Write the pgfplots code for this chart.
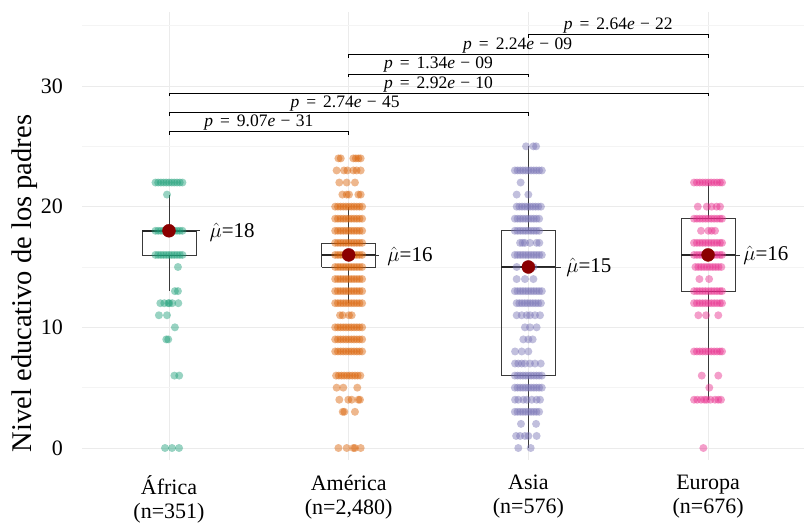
\documentclass[border=0pt]{standalone}
\usepackage{fontspec}
\setmainfont{Liberation Serif}
\usepackage{pgfplots}
\pgfplotsset{compat=1.18}
\definecolor{cA}{HTML}{1B9E77}
\definecolor{cB}{HTML}{D95F02}
\definecolor{cC}{HTML}{7570B3}
\definecolor{cD}{HTML}{E7298A}
\definecolor{meanred}{HTML}{8B0000}
\definecolor{gridmaj}{HTML}{EBEBEB}
\definecolor{gridmin}{HTML}{F4F4F4}
\definecolor{boxc}{HTML}{3A3A3A}
\newcommand{\pv}[2]{{\itshape p}\hspace{0.4em}=\hspace{0.4em}#1{\itshape e}\hspace{0.3em}−\hspace{0.3em}#2}
\pgfplotsset{
  pts/.style={only marks, mark=*, mark size=4pt, mark options={draw opacity=0, fill=#1, fill opacity=0.45}},
  boxl/.style={boxc, line width=0.7pt},
  medl/.style={black!85, line width=1.8pt},
  segl/.style={black!80, line width=0.6pt},
  brk/.style={black, line width=0.7pt},
}
\tikzset{
  plab/.style={anchor=south, inner sep=1pt, font=\fontsize{17.5}{17.5}\selectfont},
  mlab/.style={anchor=west, inner sep=0pt, font=\fontsize{21}{21}\selectfont},
}
\begin{document}
\begin{tikzpicture}
\begin{axis}[
  at={(0,0)}, anchor=south west,
  scale only axis, width=722pt, height=448pt,
  xmin=0.516, xmax=4.534, ymin=-0.994, ymax=36.13,
  axis line style={draw=none},
  major tick length=0pt, minor tick length=0pt,
  tick style={draw=none},
  xtick={1,2,3,4},
  xticklabels={{África\\(n=351)},{América\\(n=2,480)},{Asia\\(n=576)},{Europa\\(n=676)}},
  xticklabel style={align=center, font=\fontsize{22}{24}\selectfont, inner sep=0pt, yshift=-15pt},
  ytick={0,10,20,30},
  minor ytick={5,15,25,35},
  yticklabel style={font=\fontsize{22}{22}\selectfont, inner sep=0pt, xshift=-19pt},
  /pgf/number format/assume math mode=true,
  grid=both,
  major grid style={color=gridmaj, line width=0.8pt},
  minor grid style={color=gridmin, line width=0.8pt},
  ylabel={Nivel educativo de los padres},
  ylabel style={at={(axis description cs:-0.0789,0.394)}, anchor=center, font=\fontsize{28.5}{29}\selectfont},
  clip=false,
]
% ---- jittered points ----
\addplot[pts=cA] coordinates {
(0.925,22)(0.94,22)(0.955,22)(0.97,22)(0.985,22)(1,22)(1.015,22)(1.03,22)(1.045,22)(1.06,22)(1.075,22)
(0.989,21)
(0.925,18)(0.94,18)(0.955,18)(0.97,18)(0.985,18)(1,18)(1.015,18)(1.03,18)(1.045,18)(1.06,18)(1.075,18)
(0.925,16)(0.94,16)(0.955,16)(0.97,16)(0.985,16)(1,16)(1.015,16)(1.03,16)(1.045,16)(1.06,16)(1.075,16)
(1.05,15)
(1.033,13)(1.05,13)
(0.952,12)(0.974,12)(0.996,12)(1.002,12)(1.018,12)(1.052,12)
(0.944,11)(0.989,11)
(1.033,10)
(0.985,9)(0.996,9)
(1.03,6)(1.057,6)
(0.978,0)(1.017,0)(1.056,0)
};
\addplot[pts=cB] coordinates {
(1.943,24)(1.956,24)(2.026,24)(2.04,24)(2.054,24)(2.067,24)
(1.933,23)(1.974,23)(1.993,23)(2.026,23)(2.044,23)(2.067,23)
(1.948,22)(1.989,22)(2.035,22)
(1.965,21)(1.989,21)(2.002,21)(2.054,21)(2.067,21)
(1.925,20)(1.94,20)(1.955,20)(1.97,20)(1.985,20)(2,20)(2.015,20)(2.03,20)(2.045,20)(2.06,20)(2.075,20)
(1.925,19)(1.94,19)(1.955,19)(1.97,19)(1.985,19)(2,19)(2.015,19)(2.03,19)(2.045,19)(2.06,19)(2.075,19)
(1.925,18)(1.94,18)(1.955,18)(1.97,18)(1.985,18)(2,18)(2.015,18)(2.03,18)(2.045,18)(2.06,18)(2.075,18)
(1.925,17)(1.94,17)(1.955,17)(1.97,17)(1.985,17)(2,17)(2.015,17)(2.03,17)(2.045,17)(2.06,17)(2.075,17)
(1.925,16)(1.94,16)(1.955,16)(1.97,16)(1.985,16)(2,16)(2.015,16)(2.03,16)(2.045,16)(2.06,16)(2.075,16)
(1.925,15)(1.94,15)(1.955,15)(1.97,15)(1.985,15)(2,15)(2.015,15)(2.03,15)(2.045,15)(2.06,15)(2.075,15)
(1.925,14)(1.94,14)(1.955,14)(1.97,14)(1.985,14)(2,14)(2.015,14)(2.03,14)(2.045,14)(2.06,14)(2.075,14)
(1.925,13)(1.94,13)(1.955,13)(1.97,13)(1.985,13)(2,13)(2.015,13)(2.03,13)(2.045,13)(2.06,13)(2.075,13)
(1.925,12)(1.94,12)(1.955,12)(1.97,12)(1.985,12)(2,12)(2.015,12)(2.03,12)(2.045,12)(2.06,12)(2.075,12)
(1.952,11)(1.967,11)(2.002,11)(2.017,11)
(1.925,10)(1.94,10)(1.955,10)(1.97,10)(1.985,10)(2,10)(2.015,10)(2.03,10)(2.045,10)(2.06,10)(2.075,10)
(1.925,9)(1.94,9)(1.955,9)(1.97,9)(1.985,9)(2,9)(2.015,9)(2.03,9)(2.045,9)(2.06,9)(2.075,9)
(1.925,8)(1.94,8)(1.955,8)(1.97,8)(1.985,8)(2,8)(2.015,8)(2.03,8)(2.045,8)(2.06,8)(2.075,8)
(1.93,6)(1.945,6)(1.96,6)(1.975,6)(1.99,6)(2.005,6)(2.02,6)(2.035,6)(2.05,6)(2.065,6)
(1.933,5)(1.97,5)(2.048,5)
(1.948,4)(1.998,4)(2.017,4)(2.054,4)(2.063,4)
(1.967,3)(1.976,3)(2.035,3)
(1.943,0)(1.989,0)(2.026,0)(2.035,0)(2.067,0)
};
\addplot[pts=cC] coordinates {
(2.987,25)(3.028,25)(3.043,25)
(2.925,23)(2.94,23)(2.955,23)(2.97,23)(2.985,23)(3,23)(3.015,23)(3.03,23)(3.045,23)(3.06,23)(3.075,23)
(2.957,22)
(2.935,21)(3.0,21)
(2.935,20)(2.95,20)(2.965,20)(2.98,20)(2.995,20)(3.01,20)(3.025,20)(3.04,20)(3.055,20)(3.07,20)
(2.925,19)(2.94,19)(2.955,19)(2.97,19)(2.985,19)(3,19)(3.015,19)(3.03,19)(3.045,19)(3.06,19)
(2.925,18)(2.94,18)(2.955,18)(2.97,18)(2.985,18)(3,18)(3.015,18)(3.03,18)(3.045,18)(3.06,18)
(2.954,17)(2.968,17)(2.981,17)(3.009,17)(3.046,17)(3.061,17)
(2.925,16)(2.94,16)(2.955,16)(2.97,16)(2.985,16)(3,16)(3.015,16)(3.03,16)(3.045,16)(3.06,16)(3.075,16)
(2.935,15)(3.028,15)
(2.935,14)(2.981,14)(3.028,14)
(2.925,13)(2.94,13)(2.955,13)(2.97,13)(2.985,13)(3,13)(3.015,13)(3.03,13)(3.045,13)(3.06,13)(3.075,13)
(2.935,12)(2.95,12)(2.965,12)(2.98,12)(2.995,12)(3.01,12)(3.025,12)(3.04,12)(3.055,12)(3.07,12)
(2.935,11)(2.963,11)(2.991,11)(3.009,11)(3.037,11)(3.065,11)
(2.981,10)(3.009,10)(3.046,10)
(2.972,9)(3.0,9)(3.024,9)
(2.926,8)(2.963,8)(3.0,8)
(2.926,7)(2.944,7)(2.963,7)(2.981,7)(3.009,7)(3.037,7)(3.069,7)
(2.925,6)(2.94,6)(2.955,6)(2.97,6)(2.985,6)(3,6)(3.015,6)(3.03,6)(3.045,6)(3.06,6)(3.075,6)
(2.925,5)(2.94,5)(2.955,5)(2.97,5)(2.985,5)(3,5)(3.015,5)(3.03,5)(3.045,5)(3.06,5)(3.075,5)
(2.926,4)(2.944,4)(2.972,4)(2.991,4)(3.019,4)(3.046,4)(3.065,4)
(2.925,3)(2.94,3)(2.955,3)(2.97,3)(2.985,3)(3,3)(3.015,3)(3.03,3)(3.045,3)(3.06,3)
(2.959,2)(3.043,2)
(2.932,1)(2.954,1)(2.981,1)(3.0,1)(3.046,1)
(2.944,0)(3.013,0)
};
\addplot[pts=cD] coordinates {
(3.922,22)(3.938,22)(3.954,22)(3.97,22)(3.986,22)(4.002,22)(4.018,22)(4.034,22)(4.05,22)(4.066,22)(4.078,22)
(3.943,20)(3.993,20)(4.02,20)(4.048,20)(4.067,20)
(3.922,19)(3.938,19)(3.954,19)(3.97,19)(3.986,19)(4.002,19)(4.018,19)(4.034,19)(4.05,19)(4.066,19)(4.078,19)
(3.961,18)(4.002,18)(4.02,18)(4.039,18)
(3.922,17)(3.938,17)(3.954,17)(3.97,17)(3.986,17)(4.002,17)(4.018,17)(4.034,17)(4.05,17)(4.066,17)(4.078,17)
(3.922,16)(3.938,16)(3.954,16)(3.97,16)(3.986,16)(4.002,16)(4.018,16)(4.034,16)(4.05,16)(4.066,16)(4.078,16)
(3.93,15)(3.946,15)(3.962,15)(3.978,15)(3.994,15)(4.01,15)(4.026,15)(4.042,15)(4.058,15)(4.074,15)
(3.952,14)(4.006,14)
(3.922,13)(3.938,13)(3.954,13)(3.97,13)(3.986,13)(4.002,13)(4.018,13)(4.034,13)(4.05,13)(4.066,13)(4.078,13)
(3.922,12)(3.938,12)(3.954,12)(3.97,12)(3.986,12)(4.002,12)(4.018,12)(4.034,12)(4.05,12)(4.066,12)(4.078,12)
(3.946,11)(3.989,11)(4.057,11)
(3.922,8)(3.938,8)(3.954,8)(3.97,8)(3.986,8)(4.002,8)(4.018,8)(4.034,8)(4.05,8)(4.066,8)(4.078,8)
(3.965,6)(4.057,6)
(4.007,5)
(3.922,4)(3.94,4)(3.961,4)(3.98,4)(3.993,4)(4.013,4)(4.039,4)(4.057,4)(4.072,4)
(3.974,0)
};
% ---- boxes (quartiles) and whiskers ----
\addplot[boxl] coordinates {(0.85,16)(1.15,16)(1.15,18)(0.85,18)(0.85,16)};
\addplot[boxl] coordinates {(1,18)(1,21)};
\addplot[boxl] coordinates {(1,16)(1,13)};
\addplot[boxl] coordinates {(1.85,15)(2.15,15)(2.15,17)(1.85,17)(1.85,15)};
\addplot[boxl] coordinates {(2,17)(2,20)};
\addplot[boxl] coordinates {(2,15)(2,12)};
\addplot[boxl] coordinates {(2.85,6)(3.15,6)(3.15,18)(2.85,18)(2.85,6)};
\addplot[boxl] coordinates {(3,18)(3,25)};
\addplot[boxl] coordinates {(3,6)(3,0)};
\addplot[boxl] coordinates {(3.85,13)(4.15,13)(4.15,19)(3.85,19)(3.85,13)};
\addplot[boxl] coordinates {(4,19)(4,22)};
\addplot[boxl] coordinates {(4,13)(4,4)};
% medians (thick)
\addplot[medl] coordinates {(0.85,18)(1.15,18)};
\addplot[medl] coordinates {(1.85,16)(2.15,16)};
\addplot[medl] coordinates {(2.85,15)(3.15,15)};
\addplot[medl] coordinates {(3.85,16)(4.15,16)};
% mean label segments
\addplot[segl] coordinates {(1,18)(1.175,18)};
\addplot[segl] coordinates {(2,16)(2.17,16)};
\addplot[segl] coordinates {(3,15)(3.18,15)};
\addplot[segl] coordinates {(4,16)(4.18,16)};
% means
\addplot[only marks, mark=*, mark size=6.5pt, mark options={draw=meanred, fill=meanred}] coordinates {(1,18)(2,16)(3,15)(4,16)};
\node[mlab] at (axis cs:1.225,17.9) {$\hat{\mu}$=18};
\node[mlab] at (axis cs:2.215,15.9) {$\hat{\mu}$=16};
\node[mlab] at (axis cs:3.21,15.0) {$\hat{\mu}$=15};
\node[mlab] at (axis cs:4.195,16.0) {$\hat{\mu}$=16};
% ---- significance brackets ----
\addplot[brk] coordinates {(1,25.95)(1,26.2)(2,26.2)(2,25.95)};
\addplot[brk] coordinates {(1,27.55)(1,27.8)(3,27.8)(3,27.55)};
\addplot[brk] coordinates {(1,29.15)(1,29.4)(4,29.4)(4,29.15)};
\addplot[brk] coordinates {(2,30.75)(2,31.0)(3,31.0)(3,30.75)};
\addplot[brk] coordinates {(2,32.35)(2,32.6)(4,32.6)(4,32.35)};
\addplot[brk] coordinates {(3,34.0)(3,34.25)(4,34.25)(4,34.0)};
\node[plab] at (axis cs:1.5,26.2) {\pv{9.07}{31}};
\node[plab] at (axis cs:1.98,27.8) {\pv{2.74}{45}};
\node[plab] at (axis cs:2.5,29.4) {\pv{2.92}{10}};
\node[plab] at (axis cs:2.5,31.0) {\pv{1.34}{09}};
\node[plab] at (axis cs:2.94,32.6) {\pv{2.24}{09}};
\node[plab] at (axis cs:3.5,34.25) {\pv{2.64}{22}};
\end{axis}
\pgfresetboundingbox
\path[use as bounding box] (-82pt,-63pt) rectangle (722pt,460pt);
\end{tikzpicture}
\end{document}
